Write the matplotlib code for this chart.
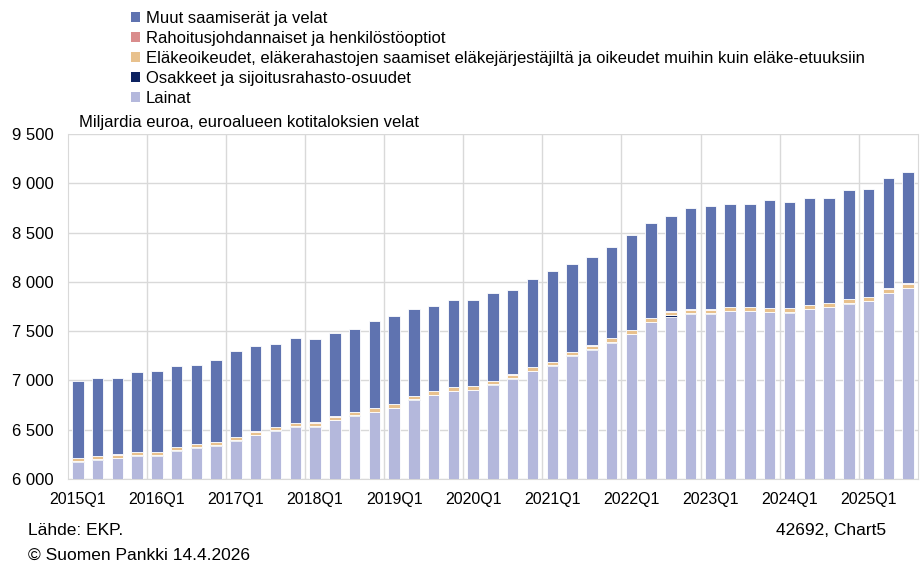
import matplotlib
matplotlib.use("Agg")
import matplotlib.pyplot as plt
from matplotlib.patches import Patch
from matplotlib.ticker import FuncFormatter

plt.rcParams["font.family"] = ["Liberation Sans", "DejaVu Sans"]

# quarters 2015Q1 .. 2025Q3
quarters = [f"{y}Q{q}" for y in range(2015, 2026) for q in range(1, 5)][:43]

# billions of euro
lainat = [6175, 6193, 6210, 6233, 6233, 6284, 6318, 6338, 6389, 6443, 6487,
          6530, 6532, 6595, 6639, 6676, 6717, 6801, 6849, 6889, 6900, 6953,
          7017, 7092, 7146, 7247, 7305, 7376, 7468, 7589, 7646, 7675, 7675,
          7700, 7700, 7690, 7680, 7721, 7741, 7775, 7802, 7883, 7934]
osakkeet = [6, 6, 6, 6, 6, 6, 6, 6, 6, 6, 6, 6, 6, 6, 6, 6, 6, 6, 6, 6, 6, 6,
            6, 6, 6, 6, 12, 14, 6, 6, 14, 6, 6, 6, 6, 6, 16, 6, 6, 6, 6, 6, 6]
elake = [30, 30, 30, 30, 31, 31, 31, 32, 32, 32, 33, 33, 33, 33, 34, 34, 34,
         35, 35, 35, 35, 36, 36, 36, 36, 37, 37, 37, 38, 38, 38, 38, 38, 39,
         39, 39, 39, 40, 40, 40, 40, 41, 41]
rahoitus = [3] * 43
muut = [780, 792, 775, 810, 819, 819, 798, 828, 865, 868, 837, 861, 849, 841,
        836, 880, 890, 876, 859, 885, 874, 885, 852, 888, 921, 888, 898, 926,
        957, 957, 965, 1023, 1047, 1044, 1044, 1088, 1068, 1077, 1063, 1107,
        1086, 1120, 1133]

series = [
    ("Lainat", lainat, "#b4b8dc"),
    ("Osakkeet ja sijoitusrahasto-osuudet", osakkeet, "#0c2260"),
    ("Eläkeoikeudet, eläkerahastojen saamiset eläkejärjestäjiltä ja oikeudet muihin kuin eläke-etuuksiin", elake, "#e8c18d"),
    ("Rahoitusjohdannaiset ja henkilöstöoptiot", rahoitus, "#d98c8c"),
    ("Muut saamiserät ja velat", muut, "#5f73b0"),
]

fig = plt.figure(figsize=(9.21, 5.67), dpi=100)
ax = fig.add_axes([0.0738, 0.1552, 0.9229, 0.6085])

x = list(range(len(quarters)))
bottom = [0] * len(x)
for name, vals, col in series:
    ax.bar(x, vals, bottom=bottom, width=0.58, color=col, edgecolor="white",
           linewidth=0.6, zorder=3)
    bottom = [b + v for b, v in zip(bottom, vals)]

ax.set_ylim(6000, 9500)
ax.set_xlim(-0.5, len(x) - 0.5)
ax.set_yticks(range(6000, 9501, 500))
ax.yaxis.set_major_formatter(FuncFormatter(lambda v, p: f"{int(v):,}".replace(",", " ")))
ax.set_xticks(x[::4])
ax.set_xticklabels(quarters[::4])
ax.tick_params(axis="y", length=0, labelsize=12, pad=10)
ax.tick_params(axis="x", length=0, labelsize=11.5, pad=9)

ax.grid(axis="y", color="#d9d9d9", linewidth=1, zorder=0)
for xv in [3.5 + 4 * k for k in range(10)]:
    ax.axvline(xv, color="#d9d9d9", linewidth=1, zorder=0)
ax.spines["top"].set_visible(False)
for s in ["left", "bottom", "right"]:
    ax.spines[s].set_color("#d9d9d9")

ax.text(0.013, 1.012, "Miljardia euroa, euroalueen kotitaloksien velat",
        transform=ax.transAxes, fontsize=12, va="bottom", ha="left")

handles = [Patch(facecolor=col, edgecolor="none") for _, _, col in series][::-1]
labels = [name for name, _, _ in series][::-1]
fig.legend(handles, labels, loc="upper left", bbox_to_anchor=(0.135, 0.993),
           frameon=False, fontsize=12, handlelength=0.55, handleheight=0.55,
           handletextpad=0.35, labelspacing=0.3, borderaxespad=0)

fig.text(0.030, 0.065, "Lähde: EKP.", fontsize=12.5, va="center")
fig.text(0.030, 0.020, "© Suomen Pankki 14.4.2026", fontsize=12.5, va="center")
fig.text(0.962, 0.065, "42692, Chart5", fontsize=12.5, va="center", ha="right")

fig.savefig("out.png", dpi=100)
